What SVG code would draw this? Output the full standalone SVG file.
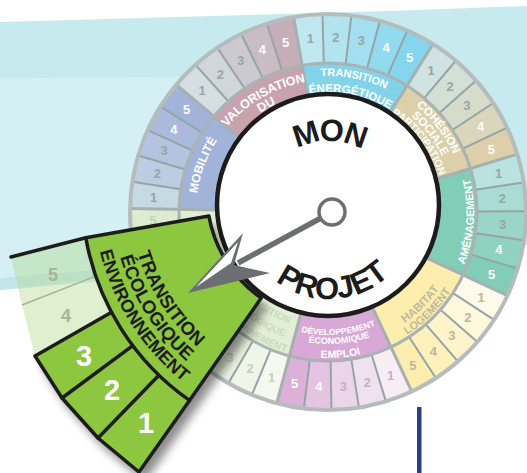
<svg xmlns="http://www.w3.org/2000/svg" width="527" height="473" viewBox="0 0 527 473">
<defs>
<style>
.t{font-family:"Liberation Sans",Arial,Helvetica,sans-serif;font-weight:bold;text-anchor:middle}
.n{font-family:"Liberation Sans",Arial,Helvetica,sans-serif;font-weight:bold;font-size:13px;text-anchor:middle}
.cell{fill:none;stroke-width:49}
.band{fill:none;stroke-width:54}
.cd{stroke:#95a4a7;stroke-width:2}
.sd{stroke:#a6b0b1;stroke-width:3}
.g{fill:#98a5a9}
.w{fill:#ffffff}
.hb{fill:#bdb59a}
.dv{fill:#c6b0c5}
.ec{fill:#c3d2bb}
.pk{stroke:#1c1c1c;stroke-width:3.5;fill:none;stroke-linejoin:round;stroke-linecap:round}
</style>
<line id="cd" x1="477" y1="212" x2="526" y2="212"/>
<line id="sd" x1="423" y1="212" x2="526" y2="212"/>
<path id="cw132" d="M 328,344 A 132 132 0 1 1 328,80 A 132 132 0 1 1 328,344"/>
<path id="cw120" d="M 328,332 A 120 120 0 1 1 328,92 A 120 120 0 1 1 328,332"/>
<path id="cw136" d="M 328,348 A 136 136 0 1 1 328,76 A 136 136 0 1 1 328,348"/>
<path id="cw138" d="M 328,350 A 138 138 0 1 1 328,74 A 138 138 0 1 1 328,350"/>
<path id="cw127" d="M 328,339 A 127 127 0 1 1 328,85 A 127 127 0 1 1 328,339"/>
<path id="cw117" d="M 328,329 A 117 117 0 1 1 328,95 A 117 117 0 1 1 328,329"/>
<path id="ccw146" d="M 328,66 A 146 146 0 1 0 328,358 A 146 146 0 1 0 328,66"/>
<path id="ccw135" d="M 328,77 A 135 135 0 1 0 328,347 A 135 135 0 1 0 328,77"/>
<path id="ccw123" d="M 328,89 A 123 123 0 1 0 328,335 A 123 123 0 1 0 328,89"/>
<path id="ccw132" d="M 328,80 A 132 132 0 1 0 328,344 A 132 132 0 1 0 328,80"/>
<path id="ccw118" d="M 328,94 A 118 118 0 1 0 328,330 A 118 118 0 1 0 328,94"/>
<path id="pmon" d="M 329,279 A 69 69 0 1 1 329,141 A 69 69 0 1 1 329,279"/>
<path id="pprojet" d="M 329,121 A 89 89 0 1 0 329,299 A 89 89 0 1 0 329,121"/>
<path id="p205" d="M 334,-11 A 205 205 0 1 0 334,399 A 205 205 0 1 0 334,-11"/>
<path id="p223" d="M 334,-29 A 223 223 0 1 0 334,417 A 223 223 0 1 0 334,-29"/>
<path id="p241" d="M 334,-47 A 241 241 0 1 0 334,435 A 241 241 0 1 0 334,-47"/>
<filter id="sh" x="-30%" y="-30%" width="160%" height="160%"><feGaussianBlur stdDeviation="5"/></filter>
</defs>

<g id="background">
<rect width="527" height="473" fill="#ffffff"/>
<polygon points="0,22 390,11 527,6 527,245 0,290" fill="#c7eaef"/>
<polygon points="0,78 240,76 240,268 0,290" fill="#d4f0f4"/>
<polygon points="0,278 140,266 140,274 0,290" fill="#c3e6ec"/>
<rect x="417" y="407" width="4.5" height="66" fill="#283f8e"/>
</g>

<g id="wheel">
<g id="cells">
<circle class="cell" cx="328" cy="212" r="173.5" stroke="#d5dfe3" stroke-dasharray="24.7 2000" transform="rotate(220 328 212)"/>
<circle class="cell" cx="328" cy="212" r="173.5" stroke="#d0d6dc" stroke-dasharray="24.7 2000" transform="rotate(228 328 212)"/>
<circle class="cell" cx="328" cy="212" r="173.5" stroke="#ccc9d0" stroke-dasharray="24.7 2000" transform="rotate(236 328 212)"/>
<circle class="cell" cx="328" cy="212" r="173.5" stroke="#c9bcc5" stroke-dasharray="24.7 2000" transform="rotate(244 328 212)"/>
<circle class="cell" cx="328" cy="212" r="173.5" stroke="#c6aeb8" stroke-dasharray="24.7 2000" transform="rotate(252 328 212)"/>
<circle class="cell" cx="328" cy="212" r="173.5" stroke="#c0e8f0" stroke-dasharray="25.9 2000" transform="rotate(260 328 212)"/>
<circle class="cell" cx="328" cy="212" r="173.5" stroke="#b2e4f0" stroke-dasharray="25.9 2000" transform="rotate(268.4 328 212)"/>
<circle class="cell" cx="328" cy="212" r="173.5" stroke="#a3dff0" stroke-dasharray="25.9 2000" transform="rotate(276.8 328 212)"/>
<circle class="cell" cx="328" cy="212" r="173.5" stroke="#93daef" stroke-dasharray="25.9 2000" transform="rotate(285.2 328 212)"/>
<circle class="cell" cx="328" cy="212" r="173.5" stroke="#86d5ee" stroke-dasharray="25.9 2000" transform="rotate(293.6 328 212)"/>
<circle class="cell" cx="328" cy="212" r="173.5" stroke="#cfe4e2" stroke-dasharray="25.3 2000" transform="rotate(302 328 212)"/>
<circle class="cell" cx="328" cy="212" r="173.5" stroke="#d3e0d6" stroke-dasharray="25.3 2000" transform="rotate(310.2 328 212)"/>
<circle class="cell" cx="328" cy="212" r="173.5" stroke="#d6dcc9" stroke-dasharray="25.3 2000" transform="rotate(318.4 328 212)"/>
<circle class="cell" cx="328" cy="212" r="173.5" stroke="#d9d6bb" stroke-dasharray="25.3 2000" transform="rotate(326.6 328 212)"/>
<circle class="cell" cx="328" cy="212" r="173.5" stroke="#dccfa9" stroke-dasharray="25.3 2000" transform="rotate(334.8 328 212)"/>
<circle class="cell" cx="328" cy="212" r="173.5" stroke="#b9e3de" stroke-dasharray="25.9 2000" transform="rotate(343 328 212)"/>
<circle class="cell" cx="328" cy="212" r="173.5" stroke="#a9dcd2" stroke-dasharray="25.9 2000" transform="rotate(351.4 328 212)"/>
<circle class="cell" cx="328" cy="212" r="173.5" stroke="#9ad6c8" stroke-dasharray="25.9 2000" transform="rotate(359.8 328 212)"/>
<circle class="cell" cx="328" cy="212" r="173.5" stroke="#8ed2bf" stroke-dasharray="25.9 2000" transform="rotate(8.2 328 212)"/>
<circle class="cell" cx="328" cy="212" r="173.5" stroke="#82cdb5" stroke-dasharray="25.9 2000" transform="rotate(16.6 328 212)"/>
<circle class="cell" cx="328" cy="212" r="173.5" stroke="#fefbeb" stroke-dasharray="24.7 2000" transform="rotate(25 328 212)"/>
<circle class="cell" cx="328" cy="212" r="173.5" stroke="#fef8dc" stroke-dasharray="24.7 2000" transform="rotate(33 328 212)"/>
<circle class="cell" cx="328" cy="212" r="173.5" stroke="#fef4ca" stroke-dasharray="24.7 2000" transform="rotate(41 328 212)"/>
<circle class="cell" cx="328" cy="212" r="173.5" stroke="#fef1bb" stroke-dasharray="24.7 2000" transform="rotate(49 328 212)"/>
<circle class="cell" cx="328" cy="212" r="173.5" stroke="#fdeeae" stroke-dasharray="24.7 2000" transform="rotate(57 328 212)"/>
<circle class="cell" cx="328" cy="212" r="173.5" stroke="#f6edf5" stroke-dasharray="24.7 2000" transform="rotate(65 328 212)"/>
<circle class="cell" cx="328" cy="212" r="173.5" stroke="#f0e1ef" stroke-dasharray="24.7 2000" transform="rotate(73 328 212)"/>
<circle class="cell" cx="328" cy="212" r="173.5" stroke="#ebd5e9" stroke-dasharray="24.7 2000" transform="rotate(81 328 212)"/>
<circle class="cell" cx="328" cy="212" r="173.5" stroke="#e4c4e1" stroke-dasharray="24.7 2000" transform="rotate(89 328 212)"/>
<circle class="cell" cx="328" cy="212" r="173.5" stroke="#dcb1d9" stroke-dasharray="24.7 2000" transform="rotate(97 328 212)"/>
<circle class="cell" cx="328" cy="212" r="173.5" stroke="#f4f8ef" stroke-dasharray="23.5 2000" transform="rotate(105 328 212)"/>
<circle class="cell" cx="328" cy="212" r="173.5" stroke="#eff5e8" stroke-dasharray="23.5 2000" transform="rotate(112.6 328 212)"/>
<circle class="cell" cx="328" cy="212" r="173.5" stroke="#ebf3e1" stroke-dasharray="23.5 2000" transform="rotate(120.2 328 212)"/>
<circle class="cell" cx="328" cy="212" r="173.5" stroke="#e6f0da" stroke-dasharray="23.5 2000" transform="rotate(127.8 328 212)"/>
<circle class="cell" cx="328" cy="212" r="173.5" stroke="#e1eed3" stroke-dasharray="23.5 2000" transform="rotate(135.4 328 212)"/>
<circle class="cell" cx="328" cy="212" r="173.5" stroke="#dcecce" stroke-dasharray="115.6 2000" transform="rotate(143 328 212)"/>
<circle class="cell" cx="328" cy="212" r="173.5" stroke="#c6dae4" stroke-dasharray="24.1 2000" transform="rotate(181 328 212)"/>
<circle class="cell" cx="328" cy="212" r="173.5" stroke="#bccde2" stroke-dasharray="24.1 2000" transform="rotate(188.8 328 212)"/>
<circle class="cell" cx="328" cy="212" r="173.5" stroke="#b4c3df" stroke-dasharray="24.1 2000" transform="rotate(196.6 328 212)"/>
<circle class="cell" cx="328" cy="212" r="173.5" stroke="#abbadc" stroke-dasharray="24.1 2000" transform="rotate(204.4 328 212)"/>
<circle class="cell" cx="328" cy="212" r="173.5" stroke="#a2b2d8" stroke-dasharray="24.1 2000" transform="rotate(212.2 328 212)"/>
</g>
<g id="bands">
<circle class="band" cx="328" cy="212" r="122" stroke="#c8a3ad" stroke-dasharray="85.7 2000" transform="rotate(220 328 212)"/>
<circle class="band" cx="328" cy="212" r="122" stroke="#82d3ea" stroke-dasharray="89.9 2000" transform="rotate(260 328 212)"/>
<circle class="band" cx="328" cy="212" r="122" stroke="#dbd0a9" stroke-dasharray="87.8 2000" transform="rotate(302 328 212)"/>
<circle class="band" cx="328" cy="212" r="122" stroke="#82cdb5" stroke-dasharray="89.9 2000" transform="rotate(343 328 212)"/>
<circle class="band" cx="328" cy="212" r="122" stroke="#fdeeae" stroke-dasharray="85.7 2000" transform="rotate(25 328 212)"/>
<circle class="band" cx="328" cy="212" r="122" stroke="#d8a8d6" stroke-dasharray="85.7 2000" transform="rotate(65 328 212)"/>
<circle class="band" cx="328" cy="212" r="122" stroke="#e2efd6" stroke-dasharray="81.4 2000" transform="rotate(105 328 212)"/>
<circle class="band" cx="328" cy="212" r="122" stroke="#dfeed2" stroke-dasharray="81.4 2000" transform="rotate(143 328 212)"/>
<circle class="band" cx="328" cy="212" r="122" stroke="#a1b3d9" stroke-dasharray="83.5 2000" transform="rotate(181 328 212)"/>
</g>
<g id="dividers">
<use href="#cd" class="cd" transform="rotate(228 328 212)"/><use href="#cd" class="cd" transform="rotate(236 328 212)"/><use href="#cd" class="cd" transform="rotate(244 328 212)"/><use href="#cd" class="cd" transform="rotate(252 328 212)"/>
<use href="#cd" class="cd" transform="rotate(268.4 328 212)"/><use href="#cd" class="cd" transform="rotate(276.8 328 212)"/><use href="#cd" class="cd" transform="rotate(285.2 328 212)"/><use href="#cd" class="cd" transform="rotate(293.6 328 212)"/>
<use href="#cd" class="cd" transform="rotate(310.2 328 212)"/><use href="#cd" class="cd" transform="rotate(318.4 328 212)"/><use href="#cd" class="cd" transform="rotate(326.6 328 212)"/><use href="#cd" class="cd" transform="rotate(334.8 328 212)"/>
<use href="#cd" class="cd" transform="rotate(351.4 328 212)"/><use href="#cd" class="cd" transform="rotate(359.8 328 212)"/><use href="#cd" class="cd" transform="rotate(8.2 328 212)"/><use href="#cd" class="cd" transform="rotate(16.6 328 212)"/>
<use href="#cd" class="cd" transform="rotate(33 328 212)"/><use href="#cd" class="cd" transform="rotate(41 328 212)"/><use href="#cd" class="cd" transform="rotate(49 328 212)"/><use href="#cd" class="cd" transform="rotate(57 328 212)"/>
<use href="#cd" class="cd" transform="rotate(73 328 212)"/><use href="#cd" class="cd" transform="rotate(81 328 212)"/><use href="#cd" class="cd" transform="rotate(89 328 212)"/><use href="#cd" class="cd" transform="rotate(97 328 212)"/>
<use href="#cd" class="cd" transform="rotate(112.6 328 212)"/><use href="#cd" class="cd" transform="rotate(120.2 328 212)"/><use href="#cd" class="cd" transform="rotate(127.8 328 212)"/><use href="#cd" class="cd" transform="rotate(135.4 328 212)"/>
<use href="#cd" class="cd" transform="rotate(173.4 328 212)"/>
<use href="#cd" class="cd" transform="rotate(188.8 328 212)"/><use href="#cd" class="cd" transform="rotate(196.6 328 212)"/><use href="#cd" class="cd" transform="rotate(204.4 328 212)"/><use href="#cd" class="cd" transform="rotate(212.2 328 212)"/>
<use href="#sd" class="sd" transform="rotate(220 328 212)"/><use href="#sd" class="sd" transform="rotate(260 328 212)"/><use href="#sd" class="sd" transform="rotate(302 328 212)"/><use href="#sd" class="sd" transform="rotate(343 328 212)"/><use href="#sd" class="sd" transform="rotate(25 328 212)"/><use href="#sd" class="sd" transform="rotate(65 328 212)"/><use href="#sd" class="sd" transform="rotate(105 328 212)"/><use href="#sd" class="sd" transform="rotate(143 328 212)"/><use href="#sd" class="sd" transform="rotate(181 328 212)"/>
<circle cx="328" cy="212" r="149" fill="none" stroke="#a9b3b4" stroke-width="3"/>
<circle cx="328" cy="212" r="198" fill="none" stroke="#b4bcbd" stroke-width="4"/>
</g>
<g id="numbers">
<text class="n g" transform="rotate(224 328 212) translate(503 212) rotate(-224)" y="4.7">1</text>
<text class="n g" transform="rotate(232 328 212) translate(503 212) rotate(-232)" y="4.7">2</text>
<text class="n g" transform="rotate(240 328 212) translate(503 212) rotate(-240)" y="4.7">3</text>
<text class="n w" transform="rotate(248 328 212) translate(503 212) rotate(-248)" y="4.7">4</text>
<text class="n w" transform="rotate(256 328 212) translate(503 212) rotate(-256)" y="4.7">5</text>
<text class="n g" transform="rotate(264.2 328 212) translate(503 212) rotate(-264.2)" y="4.7">1</text>
<text class="n g" transform="rotate(272.6 328 212) translate(503 212) rotate(-272.6)" y="4.7">2</text>
<text class="n g" transform="rotate(281 328 212) translate(503 212) rotate(-281)" y="4.7">3</text>
<text class="n w" transform="rotate(289.4 328 212) translate(503 212) rotate(-289.4)" y="4.7">4</text>
<text class="n w" transform="rotate(297.8 328 212) translate(503 212) rotate(-297.8)" y="4.7">5</text>
<text class="n g" transform="rotate(306.1 328 212) translate(503 212) rotate(-306.1)" y="4.7">1</text>
<text class="n g" transform="rotate(314.3 328 212) translate(503 212) rotate(-314.3)" y="4.7">2</text>
<text class="n g" transform="rotate(322.5 328 212) translate(503 212) rotate(-322.5)" y="4.7">3</text>
<text class="n w" transform="rotate(330.7 328 212) translate(503 212) rotate(-330.7)" y="4.7">4</text>
<text class="n w" transform="rotate(338.9 328 212) translate(503 212) rotate(-338.9)" y="4.7">5</text>
<text class="n g" transform="rotate(347.2 328 212) translate(503 212) rotate(-347.2)" y="4.7">1</text>
<text class="n g" transform="rotate(355.6 328 212) translate(503 212) rotate(-355.6)" y="4.7">2</text>
<text class="n g" transform="rotate(4 328 212) translate(503 212) rotate(-4)" y="4.7">3</text>
<text class="n w" transform="rotate(12.4 328 212) translate(503 212) rotate(-12.4)" y="4.7">4</text>
<text class="n w" transform="rotate(20.8 328 212) translate(503 212) rotate(-20.8)" y="4.7">5</text>
<text class="n hb" transform="rotate(29 328 212) translate(503 212) rotate(-29)" y="4.7">1</text>
<text class="n hb" transform="rotate(37 328 212) translate(503 212) rotate(-37)" y="4.7">2</text>
<text class="n hb" transform="rotate(45 328 212) translate(503 212) rotate(-45)" y="4.7">3</text>
<text class="n hb" transform="rotate(53 328 212) translate(503 212) rotate(-53)" y="4.7">4</text>
<text class="n hb" transform="rotate(61 328 212) translate(503 212) rotate(-61)" y="4.7">5</text>
<text class="n dv" transform="rotate(69 328 212) translate(503 212) rotate(-69)" y="4.7">1</text>
<text class="n dv" transform="rotate(77 328 212) translate(503 212) rotate(-77)" y="4.7">2</text>
<text class="n dv" transform="rotate(85 328 212) translate(503 212) rotate(-85)" y="4.7">3</text>
<text class="n w" transform="rotate(93 328 212) translate(503 212) rotate(-93)" y="4.7">4</text>
<text class="n w" transform="rotate(101 328 212) translate(503 212) rotate(-101)" y="4.7">5</text>
<text class="n ec" transform="rotate(108.8 328 212) translate(503 212) rotate(-108.8)" y="4.7">1</text>
<text class="n ec" transform="rotate(116.4 328 212) translate(503 212) rotate(-116.4)" y="4.7">2</text>
<text class="n ec" transform="rotate(124 328 212) translate(503 212) rotate(-124)" y="4.7">3</text>
<text class="n ec" transform="rotate(177.2 328 212) translate(503 212) rotate(-177.2)" y="4.7">5</text>
<text class="n g" transform="rotate(184.9 328 212) translate(503 212) rotate(-184.9)" y="4.7">1</text>
<text class="n g" transform="rotate(192.7 328 212) translate(503 212) rotate(-192.7)" y="4.7">2</text>
<text class="n g" transform="rotate(200.5 328 212) translate(503 212) rotate(-200.5)" y="4.7">3</text>
<text class="n w" transform="rotate(208.3 328 212) translate(503 212) rotate(-208.3)" y="4.7">4</text>
<text class="n w" transform="rotate(216.1 328 212) translate(503 212) rotate(-216.1)" y="4.7">5</text>
</g>
<g id="labels">
<g id="valorisation" transform="rotate(-30 328 212)">
<text class="t" font-size="12.5" fill="#fff"><textPath href="#cw132" startOffset="50%">VALORISATION</textPath></text>
<text class="t" font-size="12.5" fill="#fff"><textPath href="#cw120" startOffset="50%">DU</textPath></text>
</g>
<g id="transition-energetique" transform="rotate(11 328 212)">
<text class="t" font-size="11" fill="#fff"><textPath href="#cw136" startOffset="50%">TRANSITION</textPath></text>
<text class="t" font-size="11.5" fill="#fff"><textPath href="#cw120" startOffset="50%">ÉNERGÉTIQUE</textPath></text>
</g>
<g id="cohesion" transform="rotate(52.5 328 212)">
<text class="t" font-size="11.5" fill="#fff"><textPath href="#cw138" startOffset="50%">COHÉSION</textPath></text>
<text class="t" font-size="11.5" fill="#fff"><textPath href="#cw127" startOffset="50%">SOCIALE</textPath></text>
<text class="t" font-size="10.5" fill="#fff"><textPath href="#cw117" startOffset="50%">PARTICIPATION</textPath></text>
</g>
<g id="mobilite" transform="rotate(-69.5 328 212)">
<text class="t" font-size="12" fill="#fff"><textPath href="#cw132" startOffset="50%">MOBILITÉ</textPath></text>
</g>
<g id="amenagement" transform="rotate(-86 328 212)">
<text class="t" font-size="11" fill="#fff"><textPath href="#ccw146" startOffset="50%">AMÉNAGEMENT</textPath></text>
</g>
<g id="habitat" transform="rotate(-45 328 212)">
<text class="t" font-size="11.5" fill="#c0b89d"><textPath href="#ccw135" startOffset="50%">HABITAT</textPath></text>
<text class="t" font-size="11" fill="#c0b89d"><textPath href="#ccw146" startOffset="50%">LOGEMENT</textPath></text>
</g>
<g id="developpement" transform="rotate(-5 328 212)">
<text class="t" font-size="8.5" fill="#fff"><textPath href="#ccw123" startOffset="50%">DÉVELOPPEMENT</textPath></text>
<text class="t" font-size="9" fill="#fff"><textPath href="#ccw132" startOffset="50%">ÉCONOMIQUE</textPath></text>
<text class="t" font-size="10.5" fill="#fff"><textPath href="#ccw146" startOffset="50%">EMPLOI</textPath></text>
</g>
<g id="ecologique-faded" transform="rotate(34 328 212)">
<text class="t" font-size="10" fill="#c9dbbd"><textPath href="#ccw118" startOffset="50%">TRANSITION</textPath></text>
<text class="t" font-size="10" fill="#c9dbbd"><textPath href="#ccw132" startOffset="50%">ÉCOLOGIQUE</textPath></text>
<text class="t" font-size="10" fill="#c9dbbd"><textPath href="#ccw146" startOffset="50%">ENVIRONNEMENT</textPath></text>
</g>
</g>
</g>

<g id="center">
<circle cx="328" cy="205" r="111" fill="#ffffff" stroke="#1c1c1c" stroke-width="4.5"/>
<text class="t" font-size="31" fill="#1c1c1c" letter-spacing="-2"><textPath href="#pmon" startOffset="50%">MON</textPath></text>
<text class="t" font-size="31" fill="#1c1c1c" transform="rotate(-3 329 210)"><textPath href="#pprojet" startOffset="50%">PROJET</textPath></text>
</g>

<g id="selected-sector">
<path d="M 85.8,237.7 L 208.9,216 A 127 127 0 0 0 261.2,298 L 189.5,400.4 L 139,472 L 98,438 L 62,398 L 35,356 L 111.5,312.3 Z" fill="#000" opacity="0.45" filter="url(#sh)" transform="translate(6,10)"/>
<path d="M 111.5,312.3 L 35,356 L 22,305 L 11,257 L 85.8,237.7 A 252 252 0 0 0 111.5,312.3 Z" fill="#b3da8c" fill-opacity="0.42"/>
<path d="M 85.8,237.7 L 208.9,216 A 127 127 0 0 0 261.2,298 L 189.5,400.4 A 252 252 0 0 1 85.8,237.7 Z" fill="#8dc63f"/>
<path d="M 189.5,400.4 L 139,472 L 98,438 L 62,398 L 35,356 L 111.5,312.3 A 252 252 0 0 0 189.5,400.4 Z" fill="#8dc63f"/>
<path d="M 95.7,276.1 L 22,305" stroke="#a3b39c" stroke-width="1.5" fill="none"/>
<path class="pk" d="M 11,257 L 85.8,237.7 L 208.9,216 A 127 127 0 0 0 261.2,298 L 189.5,400.4 L 139,472 L 98,438 L 62,398 L 35,356 L 111.5,312.3"/>
<path class="pk" d="M 189.5,400.4 A 252 252 0 0 1 85.8,237.7 M 158.9,375.3 L 98,438 M 132.8,345.7 L 62,398"/>
<g transform="rotate(57.5 334 194)" fill="#1c1c1c">
<text class="t" font-size="18.5"><textPath href="#p205" startOffset="50%">TRANSITION</textPath></text>
<text class="t" font-size="18.5"><textPath href="#p223" startOffset="50%">ÉCOLOGIQUE</textPath></text>
<text class="t" font-size="18"><textPath href="#p241" startOffset="50%">ENVIRONNEMENT</textPath></text>
</g>
<text class="t" font-size="29" fill="#fff" x="84" y="366">3</text>
<text class="t" font-size="29" fill="#fff" x="112" y="400">2</text>
<text class="t" font-size="29" fill="#fff" x="146" y="433">1</text>
<text class="t" font-size="18" fill="#a3b59b" x="66" y="322">4</text>
<text class="t" font-size="18" fill="#a3b59b" x="53" y="281">5</text>
</g>

<g id="connectors">
<line x1="321" y1="218" x2="238" y2="263" stroke="#6d6e71" stroke-width="5.5"/>
<polygon points="188,293 243,233 234,265 270,273" fill="#6d6e71"/>
<polygon points="196,287 238,242 231,263" fill="#ffffff"/>
<circle cx="332" cy="212" r="13" fill="#ffffff" stroke="#6d6e71" stroke-width="3.5"/>
</g>
</svg>
